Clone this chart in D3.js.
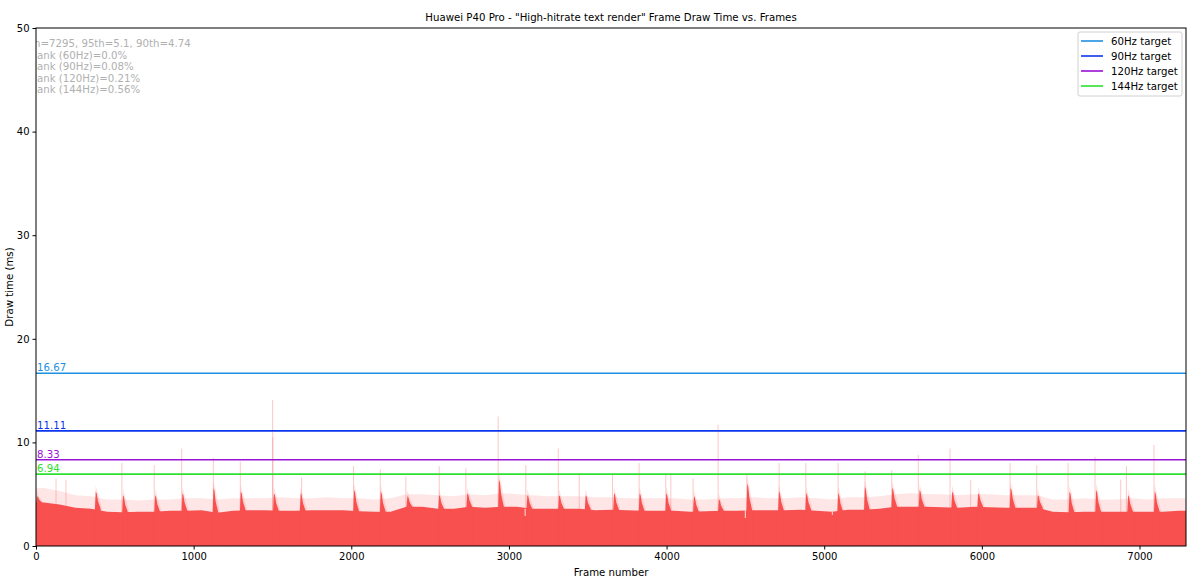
<!DOCTYPE html>
<html>
<head>
<meta charset="utf-8">
<script src="https://cdn.jsdelivr.net/npm/d3@7"></script>
<style>
  body { margin: 0; background: #fff; }
  text { font-family: "DejaVu Sans", sans-serif; }
</style>
</head>
<body>
<div id="chart"></div>
<script>
// données
const frameCount = 7295;
const binSize = 100;

// niveau du rouge plein, par tranche de 100 frames (ms)
const solidLevel = [
  4.2, 4.0, 3.7, 3.6, 3.3, 3.25, 3.3, 3.3, 3.4, 3.4,
  3.45, 3.2, 3.4, 3.45, 3.45, 3.4, 3.4, 3.45, 3.45, 3.45,
  3.35, 3.3, 3.3, 3.8, 3.8, 3.6, 3.6, 3.8, 3.7, 3.8,
  3.8, 3.6, 3.6, 3.6, 3.6, 3.45, 3.5, 3.45, 3.4, 3.4,
  3.4, 3.3, 3.35, 3.4, 3.4, 3.45, 3.45, 3.45, 3.5, 3.4,
  3.3, 3.5, 3.5, 3.6, 3.8, 3.8, 3.8, 3.75, 3.7, 3.8,
  3.75, 3.7, 3.7, 3.7, 3.3, 3.25, 3.3, 3.3, 3.3, 3.3,
  3.3, 3.3, 3.4
];

// haut de la zone bruitée (rose clair), même découpage
const fringeLevel = [
  5.6, 5.3, 4.9, 4.8, 4.5, 4.5, 4.4, 4.5, 4.5, 4.6,
  4.6, 4.5, 4.6, 4.6, 4.6, 4.7, 4.6, 4.6, 4.7, 4.6,
  4.6, 4.5, 4.6, 5.0, 5.0, 4.9, 4.8, 5.0, 4.9, 5.1,
  5.0, 4.9, 4.8, 4.8, 4.8, 4.7, 4.7, 4.6, 4.6, 4.6,
  4.6, 4.5, 4.5, 4.6, 4.6, 4.7, 4.6, 4.6, 4.7, 4.6,
  4.5, 4.7, 4.7, 4.8, 5.0, 5.1, 5.0, 5.0, 4.9, 5.0,
  5.0, 4.9, 4.9, 4.9, 4.5, 4.5, 4.6, 4.5, 4.5, 4.6,
  4.5, 4.6, 4.6
];

// bosses pleines [frame, ms]
const bumps = [
  [8, 4.8], [380, 5.25], [553, 4.9], [757, 4.9], [930, 5.1], [1127, 5.6],
  [1300, 5.25], [1510, 5.1], [1680, 5.1], [2019, 5.4], [2188, 5.25],
  [2357, 4.8], [2558, 4.9], [2737, 5.1], [2938, 6.4], [3118, 4.9],
  [3319, 4.9], [3488, 4.9], [3668, 5.1], [3830, 5.1], [3999, 5.1],
  [4175, 4.8], [4333, 4.5], [4513, 6.0], [4714, 5.25], [4887, 5.1],
  [5090, 5.1], [5259, 5.7], [5433, 5.6], [5606, 5.4], [5813, 5.25],
  [5978, 5.1], [6183, 5.6], [6356, 4.9], [6557, 5.25], [6726, 5.4],
  [6929, 4.9], [7098, 5.25]
];

// pics isolés [frame, ms]
const spikes = [
  [127, 6.5], [190, 6.4], [545, 8.0], [750, 7.8], [924, 9.4], [1125, 8.5],
  [1296, 8.15], [1501, 14.1], [1503, 10.5], [1685, 6.6], [2014, 7.7],
  [2184, 7.4], [2346, 6.7], [2558, 7.7], [2727, 7.5], [2932, 12.5],
  [3107, 7.8], [3313, 9.4], [3446, 7.0], [3657, 6.9], [3826, 8.0],
  [3995, 7.0], [4027, 6.9], [4168, 6.5], [4327, 11.7], [4509, 6.9],
  [4714, 8.0], [4883, 8.0], [5088, 8.0], [5259, 7.2], [5428, 7.3],
  [5597, 8.8], [5798, 9.4], [5929, 6.4], [6179, 8.0], [6348, 7.8],
  [6547, 8.0], [6718, 8.6], [6881, 6.4], [6917, 7.7], [7092, 9.75]
];

// creux [frame, ms]
const dips = [[3103, 2.9], [4500, 2.7], [5052, 3.0]];

const targetNames = ["60Hz target", "90Hz target", "120Hz target", "144Hz target"];
const targetValues = [16.67, 11.11, 8.33, 6.94];
const targetColors = ["#1f8fe0", "#0b36ee", "#9a12d6", "#2ee02e"];

const statLines = [
  "n=7295, 95th=5.1, 90th=4.74",
  "Jank (60Hz)=0.0%",
  "Jank (90Hz)=0.08%",
  "Jank (120Hz)=0.21%",
  "Jank (144Hz)=0.56%"
];

const xTicks = [0, 1000, 2000, 3000, 4000, 5000, 6000, 7000];
const yTicks = [0, 10, 20, 30, 40, 50];

// dimensions
const width = 1200;
const height = 586;
const margin = { top: 28, right: 14, bottom: 40, left: 36 };
const red = "#f84f4f";
const fontSize = "10.2px";

const svg = d3.select("#chart")
  .append("svg")
  .attr("width", width)
  .attr("height", height);

const x = d3.scaleLinear().domain([0, frameCount]).range([margin.left, width - margin.right]);
const y = d3.scaleLinear().domain([0, 50]).range([height - margin.bottom, margin.top]);

svg.append("clipPath").attr("id", "plot")
  .append("rect")
  .attr("x", x(0)).attr("y", y(50))
  .attr("width", x(frameCount) - x(0))
  .attr("height", y(0) - y(50));

const g = svg.append("g").attr("clip-path", "url(#plot)");

const binPoints = (arr) => {
  let pts = arr.map((v, i) => ({ f: i * binSize + binSize / 2, v: v }));
  pts.unshift({ f: 0, v: arr[0] });
  pts.push({ f: frameCount, v: arr[arr.length - 1] });
  return pts;
};

const area = d3.area()
  .x(d => x(d.f))
  .y0(y(0))
  .y1(d => y(d.v));

// zone bruitée
g.append("path")
  .datum(binPoints(fringeLevel))
  .attr("d", area)
  .attr("fill", red)
  .attr("opacity", 0.14);

// pics
g.selectAll(".spike")
  .data(spikes)
  .enter()
  .append("line")
  .attr("x1", d => x(d[0]))
  .attr("x2", d => x(d[0]))
  .attr("y1", y(0))
  .attr("y2", d => y(d[1]))
  .attr("stroke", red)
  .attr("stroke-width", 1)
  .attr("opacity", 0.3);

// rouge plein
g.append("path")
  .datum(binPoints(solidLevel))
  .attr("d", area)
  .attr("fill", red);

const baseAt = f => solidLevel[Math.min(solidLevel.length - 1, Math.floor(f / binSize))];

// bosses : pic étroit avec une petite traîne
bumps.forEach(b => {
  let base = baseAt(b[0]);
  let h = b[1] - base;
  g.append("path")
    .datum([
      { f: b[0] - 10, v: base },
      { f: b[0] - 1, v: b[1] + 0.6 },
      { f: b[0] + 10, v: b[1] },
      { f: b[0] + 40, v: base }
    ])
    .attr("d", area)
    .attr("fill", red)
    .attr("opacity", 0.16);

  g.append("path")
    .datum([
      { f: b[0] - 6, v: base },
      { f: b[0] - 1, v: b[1] },
      { f: b[0] + 5, v: base + h * 0.9 },
      { f: b[0] + 13, v: base + h * 0.45 },
      { f: b[0] + 30, v: base }
    ])
    .attr("d", area)
    .attr("fill", red);
});

// creux
g.selectAll(".dip")
  .data(dips)
  .enter()
  .append("line")
  .attr("x1", d => x(d[0]))
  .attr("x2", d => x(d[0]))
  .attr("y1", d => y(d[1]))
  .attr("y2", d => y(baseAt(d[0])))
  .attr("stroke", "#fff")
  .attr("stroke-width", 1.2)
  .attr("opacity", 0.7);

// lignes cibles
targetValues.forEach((v, i) => {
  g.append("line")
    .attr("x1", x(0))
    .attr("x2", x(frameCount))
    .attr("y1", y(v))
    .attr("y2", y(v))
    .attr("stroke", targetColors[i])
    .attr("stroke-width", 1.6);

  svg.append("text")
    .attr("x", x(0) + 1)
    .attr("y", y(v) - 2)
    .text(v.toFixed(2))
    .style("fill", targetColors[i])
    .style("font-size", fontSize);
});

// texte stats (coupé par le cadre)
g.selectAll(".stat")
  .data(statLines)
  .enter()
  .append("text")
  .attr("x", x(0) - 2)
  .attr("y", (d, i) => y(50) + 19 + i * 11.5)
  .text(d => d)
  .style("fill", "#b0b0b0")
  .style("font-size", fontSize);

// axes
svg.append("g")
  .attr("transform", "translate(0," + y(0) + ")")
  .call(d3.axisBottom(x).tickValues(xTicks).tickSize(3.5).tickPadding(3).tickFormat(d3.format("d")))
  .call(a => a.select(".domain").remove())
  .selectAll("text").style("font-size", "10px").style("fill", "#000");

svg.append("g")
  .attr("transform", "translate(" + x(0) + ",0)")
  .call(d3.axisLeft(y).tickValues(yTicks).tickSize(3.5).tickPadding(3).tickFormat(d3.format("d")))
  .call(a => a.select(".domain").remove())
  .selectAll("text").style("font-size", "10px").style("fill", "#000");

svg.append("rect")
  .attr("x", x(0)).attr("y", y(50))
  .attr("width", x(frameCount) - x(0))
  .attr("height", y(0) - y(50))
  .attr("fill", "none")
  .attr("stroke", "#000")
  .attr("stroke-width", 1);

// légende
const legend = svg.append("g").attr("transform", "translate(1078,32)");
legend.append("rect")
  .attr("width", 104).attr("height", 64)
  .attr("rx", 2)
  .attr("fill", "#fff")
  .attr("fill-opacity", 0.8)
  .attr("stroke", "#d0d0d0");

targetNames.forEach((name, i) => {
  legend.append("line")
    .attr("x1", 3).attr("x2", 25)
    .attr("y1", 9 + i * 15).attr("y2", 9 + i * 15)
    .attr("stroke", targetColors[i])
    .attr("stroke-width", 1.6);
  legend.append("text")
    .attr("x", 33).attr("y", 13 + i * 15)
    .text(name)
    .style("font-size", fontSize);
});

// titres
svg.append("text")
  .attr("x", (x(0) + x(frameCount)) / 2)
  .attr("y", 21)
  .attr("text-anchor", "middle")
  .text("Huawei P40 Pro - \"High-hitrate text render\" Frame Draw Time vs. Frames")
  .style("font-size", fontSize);

svg.append("text")
  .attr("x", (x(0) + x(frameCount)) / 2)
  .attr("y", 576)
  .attr("text-anchor", "middle")
  .text("Frame number")
  .style("font-size", fontSize);

svg.append("text")
  .attr("transform", "translate(13," + (y(0) + y(50)) / 2 + ") rotate(-90)")
  .attr("text-anchor", "middle")
  .text("Draw time (ms)")
  .style("font-size", fontSize);
</script>
</body>
</html>
